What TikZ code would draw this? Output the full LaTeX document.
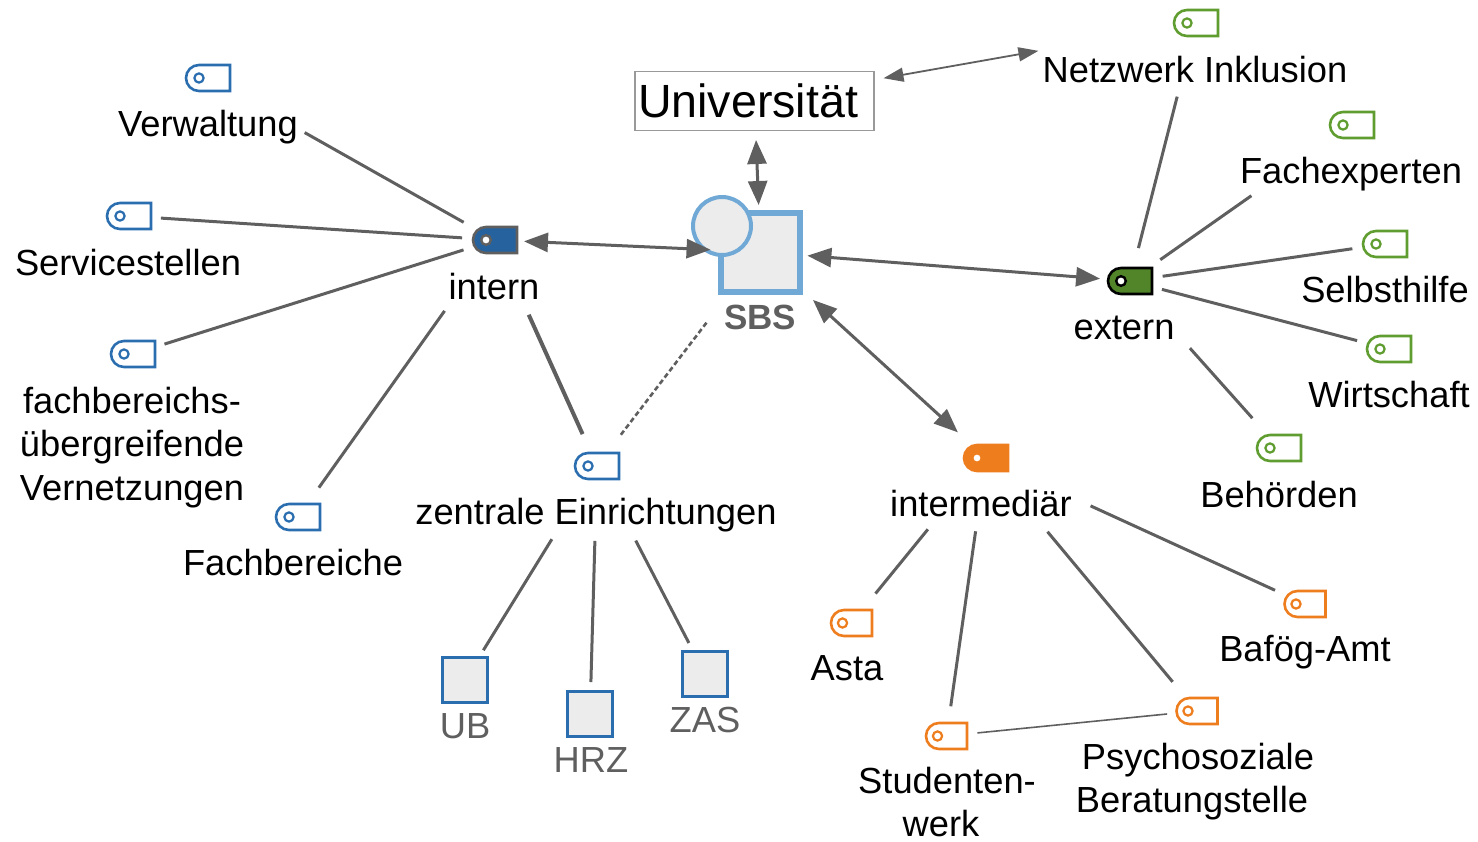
\documentclass[tikz,border=0pt]{standalone}
\usepackage{fontspec}
\setmainfont{Liberation Sans}
\usepackage{tikz}
\usetikzlibrary{positioning,arrows.meta,shapes.misc}
\definecolor{colorblue}   {RGB}{42 ,110,176}
\definecolor{colorgreen}  {RGB}{96 ,157,48 }
\definecolor{colororange} {RGB}{238,125,30 }
\definecolor{colorline}   {RGB}{95 ,95 ,95 }
\definecolor{colorsbs}    {RGB}{112,168,214}
\definecolor{colorfill}   {RGB}{236,236,236}
\begin{document}
\begin{tikzpicture}[
    x=1pt, y=-1pt,
    txt/.style={text=black,font={\fontsize{36.3}{43.5}\selectfont},align=center,inner sep=0pt},
    greytxt/.style={txt,text=colorline},
    tagbox/.style={rounded rectangle,rounded rectangle right arc=none,minimum width=44pt,minimum height=26pt,inner sep=0pt,line width=2.6pt,draw=#1,fill=white,
        path picture={\draw[#1,line width=2.2pt] ([xshift=-9pt]path picture bounding box.center) circle (4.6pt);}},
    orangetag/.style={tagbox=colororange,minimum width=41pt},
    hubtag/.style n args={3}{rounded rectangle,rounded rectangle right arc=none,minimum width=44pt,minimum height=26pt,inner sep=0pt,line width=2.6pt,draw=#1,fill=#2,
        path picture={\filldraw[fill=#3,draw=#1,line width=2.4pt] ([xshift=-9pt]path picture bounding box.center) circle (4.8pt);}},
    unitbox/.style={rectangle,draw=colorblue,fill=colorfill,line width=3pt,minimum size=45pt,inner sep=0pt},
    link/.style={draw=colorline,line width=3pt},
    both/.style={link,{Triangle[length=24pt,width=19pt]}-{Triangle[length=24pt,width=19pt]}},
    thinboth/.style={link,line width=1.8pt,{Triangle[length=20pt,width=14pt]}-{Triangle[length=20pt,width=14pt]}},
]
    \useasboundingbox (0,0) rectangle (1478,841);

    % SBS and Universitaet
    \node[rectangle,draw=colorsbs,fill=colorfill,line width=6pt,minimum size=79pt,inner sep=0pt] at (760.5,252) (sbs) {};
    \node[circle,draw=colorsbs,fill=colorfill,line width=4pt,minimum size=58pt,inner sep=0pt] at (722,226) (sbscircle) {};
    \node[greytxt,font={\fontsize{35}{40}\selectfont\bfseries}] at (760,317) (sbslabel) {SBS};
    \node[rectangle,draw=black!40,line width=1.3pt,minimum height=59pt,text width=233pt,inner sep=3pt,align=left,font={\fontsize{46.6}{50}\selectfont}] at (754.5,101) (uni) {Universität};

    % Hubs
    \node[hubtag={colorline}{colorblue!90!black}{white}] at (495,240) (intern) {};
    \node[txt] at (494,287) (internlabel) {intern};
    \node[hubtag={black}{colorgreen!85!black}{white}] at (1130,281) (extern) {};
    \node[txt] at (1124,328) (externlabel) {extern};
    \node[hubtag={colororange}{colororange}{white}] at (986,458) (intermediaer) {};
    \node[txt] at (981,504) (intermediaerlabel) {intermediär};

    % Intern
    \node[tagbox=colorblue] at (208,78) (verwaltung) {};
    \node[txt] at (208,127.5) (verwaltunglabel) {Verwaltung};
    \node[tagbox=colorblue] at (129,216) (service) {};
    \node[txt] at (128,263) (servicelabel) {Servicestellen};
    \node[tagbox=colorblue] at (133,354) (vernetzung) {};
    \node[txt] at (132,447.5) (vernetzunglabel) {fachbereichs-\\übergreifende\\Vernetzungen};
    \node[tagbox=colorblue] at (298,517) (fachbereiche) {};
    \node[txt] at (293,563) (fachbereichelabel) {Fachbereiche};
    \node[tagbox=colorblue] at (597,466) (zentrale) {};
    \node[txt] at (596,515.5) (zentralelabel) {zentrale Einrichtungen};

    % Units
    \node[unitbox] at (465,680) (ub) {};
    \node[greytxt] at (465,726) (ublabel) {UB};
    \node[unitbox] at (590,714) (hrz) {};
    \node[greytxt] at (591,760) (hrzlabel) {HRZ};
    \node[unitbox] at (705,674) (zas) {};
    \node[greytxt] at (705,720) (zaslabel) {ZAS};

    % Extern
    \node[tagbox=colorgreen] at (1196,23) (netzwerk) {};
    \node[txt] at (1195,70) (netzwerklabel) {Netzwerk Inklusion};
    \node[tagbox=colorgreen] at (1352,125) (experten) {};
    \node[txt] at (1351,174) (expertenlabel) {Fachexperten};
    \node[tagbox=colorgreen] at (1385,244) (selbsthilfe) {};
    \node[txt] at (1385,290) (selbsthilfelabel) {Selbsthilfe};
    \node[tagbox=colorgreen] at (1389,349) (wirtschaft) {};
    \node[txt] at (1389,395) (wirtschaftlabel) {Wirtschaft};
    \node[tagbox=colorgreen] at (1279,448) (behoerden) {};
    \node[txt] at (1279,495) (behoerdenlabel) {Behörden};

    % Intermediaer
    \node[orangetag] at (851.5,623) (asta) {};
    \node[txt] at (847,668) (astalabel) {Asta};
    \node[orangetag] at (946.5,736) (studentenwerk) {};
    \node[txt] at (947,802) (studentenwerklabel) {Studenten-\\werk\hspace*{12pt}};
    \node[orangetag] at (1197,711) (beratung) {};
    \node[txt] at (1192,781.5) (beratunglabel) {\hspace*{12pt}Psychosoziale\\Beratungstelle};
    \node[orangetag] at (1305,604) (bafoeg) {};
    \node[txt] at (1305,652) (bafoeglabel) {Bafög-Amt};

    % Connections intern
    \draw[link,shorten <=36pt,shorten >=111pt] (intern.center) -- (verwaltung.center);
    \draw[link,shorten <=33pt,shorten >=32pt] (intern.center) -- (service.center);
    \draw[link,shorten <=33pt,shorten >=33pt] (intern.center) -- (vernetzung.center);
    \draw[link,shorten <=87pt,shorten >=36pt] (intern.center) -- (fachbereiche.center);
    \draw[link,line width=4pt,shorten <=82pt,shorten >=35pt] (intern.center) -- (zentrale.center);

    % Connections zentrale
    \draw[link,shorten <=86pt,shorten >=35pt] (zentrale.center) -- (ub.center);
    \draw[link,shorten <=75pt,shorten >=32pt] (zentrale.center) -- (hrz.center);
    \draw[link,shorten <=84pt,shorten >=35pt] (zentrale.center) -- (zas.center);

    % Connections extern
    \draw[link,shorten <=34pt,shorten >=76pt] (extern.center) -- (netzwerk.center);
    \draw[link,shorten <=37pt,shorten >=123pt] (extern.center) -- (experten.center);
    \draw[link,shorten <=33pt,shorten >=33pt] (extern.center) -- (selbsthilfe.center);
    \draw[link,shorten <=33pt,shorten >=33pt] (extern.center) -- (wirtschaft.center);
    \draw[link,shorten <=90pt,shorten >=40pt] (extern.center) -- (behoerden.center);

    % Connections intermediaer
    \draw[link,shorten <=92pt,shorten >=38pt] (intermediaer.center) -- (asta.center);
    \draw[link,shorten <=74pt,shorten >=30pt] (intermediaer.center) -- (studentenwerk.center);
    \draw[link,shorten <=96pt,shorten >=38pt] (intermediaer.center) -- (beratung.center);
    \draw[link,shorten <=115pt,shorten >=33pt] (intermediaer.center) -- (bafoeg.center);
    \draw[link,line width=1.6pt,shorten <=31pt,shorten >=30pt] (studentenwerk.center) -- (beratung.center);

    % Arrows
    \draw[both,shorten <=29pt,shorten >=50pt] (intern.center) -- (sbs.center);
    \draw[both,shorten <=47pt,shorten >=30pt] (sbs.center) -- (extern.center);
    \draw[both,shorten <=71pt,shorten >=38pt] (sbs.center) -- (intermediaer.center);
    \draw[both,shorten <=39pt,shorten >=47pt] (uni.center) -- (sbs.center);
    \draw[thinboth,shorten <=131pt,shorten >=160pt] (uni.center) -- (netzwerk.center);
    \draw[link,line width=2.6pt,dash pattern=on 5pt off 3pt,shorten <=89pt,shorten >=39pt] (sbs.center) -- (zentrale.center);

\end{tikzpicture}
\end{document}
